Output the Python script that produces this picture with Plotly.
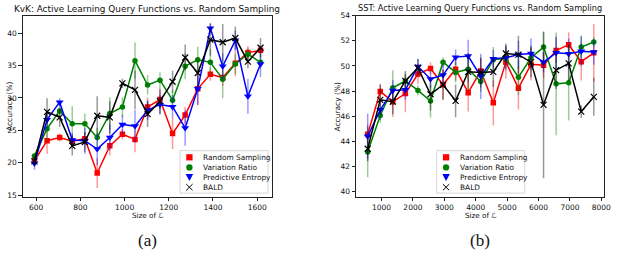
import plotly.graph_objects as go

# ---------------- data ----------------
kvk_x = [592, 649, 706, 763, 820, 876, 933, 990, 1047, 1104, 1160, 1217, 1274, 1331, 1388, 1444, 1501, 1558, 1615]
kvk_random = [20.3, 23.4, 23.9, 23.3, 23.7, 18.4, 22.6, 24.4, 23.6, 28.6, 29.75, 24.5, 27.35, 31.4, 33.65, 33.15, 35.35, 37.0, 37.35]
kvk_random_err = [0.6, 2.0, 0.6, 1.2, 1.0, 2.3, 1.5, 0.8, 2.0, 1.5, 1.5, 2.4, 1.3, 2.5, 1.0, 1.3, 2.0, 1.0, 0.8]
kvk_varratio = [21.05, 25.25, 28.0, 26.0, 26.0, 23.9, 27.6, 28.6, 35.75, 32.0, 32.75, 29.65, 34.9, 35.9, 35.5, 32.9, 35.25, 36.75, 35.5]
kvk_varratio_err = [0.5, 2.0, 1.2, 2.7, 1.6, 1.5, 2.5, 1.5, 2.8, 1.5, 1.2, 1.5, 2.0, 2.0, 2.0, 2.95, 1.5, 1.0, 1.0]
kvk_entropy = [19.9, 26.65, 29.35, 23.5, 23.4, 22.1, 23.9, 25.9, 25.65, 28.1, 29.0, 28.65, 25.35, 31.4, 40.75, 34.9, 38.9, 30.25, 35.25]
kvk_entropy_err = [1.0, 1.5, 0.6, 1.0, 2.0, 2.5, 2.0, 1.5, 2.5, 1.5, 1.5, 1.8, 2.75, 2.5, 0.8, 2.0, 1.5, 2.7, 2.0]
kvk_bald = [20.2, 27.85, 27.0, 22.6, 23.2, 27.25, 27.0, 32.25, 31.25, 27.5, 29.5, 32.5, 36.25, 33.85, 39.0, 38.6, 39.25, 35.6, 37.75]
kvk_bald_err = [0.8, 2.1, 1.5, 1.5, 1.5, 3.0, 2.5, 0.7, 3.0, 2.0, 2.0, 1.7, 2.0, 2.0, 2.5, 2.8, 1.8, 1.0, 1.5]

sst_x = [560, 960, 1360, 1760, 2160, 2560, 2960, 3360, 3760, 4160, 4560, 4960, 5360, 5760, 6160, 6560, 6960, 7360, 7760]
sst_random = [44.55, 47.97, 47.14, 47.8, 49.35, 49.8, 48.5, 49.74, 47.87, 49.6, 47.06, 50.3, 48.23, 50.13, 50.05, 51.22, 51.69, 50.34, 51.04]
sst_random_err = [0.8, 0.6, 1.2, 1.5, 0.8, 0.5, 1.2, 0.9, 1.5, 1.0, 1.8, 1.3, 1.7, 1.3, 1.0, 1.0, 1.0, 1.5, 2.3]
sst_varratio = [43.14, 46.05, 48.26, 48.8, 48.05, 47.2, 50.3, 49.48, 49.74, 48.75, 50.5, 50.6, 49.1, 50.65, 51.5, 48.57, 48.65, 51.5, 51.9]
sst_varratio_err = [2.0, 0.6, 1.4, 0.6, 0.4, 1.3, 0.4, 0.8, 1.0, 0.8, 1.0, 0.8, 1.4, 1.0, 1.2, 4.1, 3.0, 0.9, 0.4]
sst_entropy = [44.4, 46.5, 48.05, 48.1, 49.95, 48.96, 49.27, 50.7, 50.78, 49.17, 50.57, 50.65, 50.9, 50.99, 50.3, 51.04, 50.96, 51.17, 51.1]
sst_entropy_err = [1.8, 0.8, 0.8, 0.8, 0.6, 0.7, 0.8, 0.6, 1.3, 1.8, 0.7, 1.0, 1.1, 1.2, 0.8, 1.3, 1.2, 1.2, 1.0]
sst_bald = [43.4, 47.3, 47.15, 48.8, 49.85, 47.74, 48.5, 47.22, 49.53, 49.48, 49.53, 50.99, 50.9, 50.3, 46.9, 49.66, 50.2, 46.36, 47.53]
sst_bald_err = [1.0, 1.2, 1.0, 0.8, 0.7, 1.3, 1.2, 1.3, 1.5, 1.2, 1.2, 0.8, 1.5, 1.2, 5.85, 1.5, 1.4, 0.5, 1.5]

series_names = ["Random Sampling", "Variation Ratio", "Predictive Entropy", "BALD"]
kvk_x_ticks = [600, 800, 1000, 1200, 1400, 1600]
kvk_y_ticks = [15, 20, 25, 30, 35, 40]
sst_x_ticks = [1000, 2000, 3000, 4000, 5000, 6000, 7000, 8000]
sst_y_ticks = [40, 42, 44, 46, 48, 50, 52, 54]

# ---------------- styles ----------------
W, H = 640, 276
FONT = "DejaVu Sans"
styles = [
    dict(color="#ff0000", err="rgba(255,0,0,0.4)", symbol="square", size=5.5),
    dict(color="#008000", err="rgba(0,128,0,0.4)", symbol="circle", size=5.5),
    dict(color="#0000ff", err="rgba(0,0,255,0.4)", symbol="triangle-down", size=7),
    dict(color="#000000", err="rgba(0,0,0,0.4)", symbol="x-thin", size=6),
]

def fx(p):
    return p / W

def fy(p):
    return 1 - p / H

fig = go.Figure()

panels = [
    dict(x=kvk_x, ys=[kvk_random, kvk_varratio, kvk_entropy, kvk_bald],
         es=[kvk_random_err, kvk_varratio_err, kvk_entropy_err, kvk_bald_err],
         xa="x", ya="y"),
    dict(x=sst_x, ys=[sst_random, sst_varratio, sst_entropy, sst_bald],
         es=[sst_random_err, sst_varratio_err, sst_entropy_err, sst_bald_err],
         xa="x2", ya="y2"),
]

for p in panels:
    for name, y, e, st in zip(series_names, p["ys"], p["es"], styles):
        marker = dict(color=st["color"], symbol=st["symbol"], size=st["size"])
        if st["symbol"] == "x-thin":
            marker["line"] = dict(color=st["color"], width=1.2)
        fig.add_trace(go.Scatter(
            x=p["x"], y=y, name=name, mode="lines+markers",
            line=dict(color=st["color"], width=1.5),
            marker=marker,
            error_y=dict(type="data", array=e, visible=True, color=st["err"],
                         thickness=1.5, width=0),
            xaxis=p["xa"], yaxis=p["ya"], showlegend=False,
        ))

# plot areas in pixels (left, right, top, bottom)
areas = [(23, 275, 12, 197.7), (360, 611, 12, 198)]

axis_common = dict(showgrid=False, zeroline=False, showline=True, linecolor="#222",
                   linewidth=0.9, mirror=True, ticks="outside", ticklen=3.5,
                   tickwidth=0.8, tickcolor="#222",
                   tickfont=dict(family=FONT, size=7.5, color="#111"))

fig.update_layout(
    width=W, height=H, margin=dict(l=0, r=0, t=0, b=0),
    paper_bgcolor="white", plot_bgcolor="white", showlegend=False,
    xaxis=dict(domain=[fx(areas[0][0]), fx(areas[0][1])], range=[539, 1667],
               tickvals=kvk_x_ticks, anchor="y", **axis_common),
    yaxis=dict(domain=[fy(areas[0][3]), fy(areas[0][2])], range=[14.75, 42.7],
               tickvals=kvk_y_ticks, anchor="x", **axis_common),
    xaxis2=dict(domain=[fx(areas[1][0]), fx(areas[1][1])], range=[190, 8095],
                tickvals=sst_x_ticks, anchor="y2", **axis_common),
    yaxis2=dict(domain=[fy(areas[1][3]), fy(areas[1][2])], range=[39.56, 54.0],
                tickvals=sst_y_ticks, anchor="x2", **axis_common),
)

annotations = []
titles = ["KvK: Active Learning Query Functions vs. Random Sampling",
          "SST: Active Learning Query Functions vs. Random Sampling"]
title_sizes = [8.9, 8.2]
title_y = [5, 4.5]
captions = ["(a)", "(b)"]
ylabel_x = [9, 341]
for (l, r, t, b), title, ts, ty, cap, yl in zip(areas, titles, title_sizes, title_y, captions, ylabel_x):
    cx = (l + r) / 2
    annotations.append(dict(x=fx(cx), y=fy(ty), xref="paper", yref="paper", text=title,
                            showarrow=False, xanchor="center", yanchor="middle",
                            font=dict(family=FONT, size=ts, color="#111")))
    annotations.append(dict(x=fx(cx), y=fy(217), xref="paper", yref="paper",
                            text="Size of \u2112", showarrow=False, xanchor="center",
                            yanchor="middle", font=dict(family=FONT, size=7.2, color="#111")))
    annotations.append(dict(x=fx(yl), y=fy((t + b) / 2), xref="paper", yref="paper",
                            text="Accuracy (%)", textangle=-90, showarrow=False,
                            xanchor="center", yanchor="middle",
                            font=dict(family=FONT, size=7.5, color="#111")))
    annotations.append(dict(x=fx(cx), y=fy(243), xref="paper", yref="paper", text=cap,
                            showarrow=False, xanchor="center", yanchor="middle",
                            font=dict(family="Liberation Serif", size=17, color="#111")))

# custom compact legends (matplotlib style)
shapes = []
legend_boxes = [(182, 271, 150.5, 194), (441.5, 530.5, 150.5, 194)]
row_y = [157.3, 167.7, 177.7, 188.0]
for (bl, br, bt, bb) in legend_boxes:
    shapes.append(dict(type="rect", xref="paper", yref="paper",
                       x0=fx(bl), x1=fx(br), y0=fy(bb), y1=fy(bt),
                       line=dict(color="#cccccc", width=0.8),
                       fillcolor="rgba(255,255,255,0.85)", layer="above"))
    mx = bl + 9.5
    tx = bl + 21.5
    for name, st, ry in zip(series_names, styles, row_y):
        s = 3.2
        if st["symbol"] == "square":
            shapes.append(dict(type="rect", xref="paper", yref="paper",
                               x0=fx(mx - s), x1=fx(mx + s), y0=fy(ry + s), y1=fy(ry - s),
                               line=dict(width=0), fillcolor=st["color"], layer="above"))
        elif st["symbol"] == "circle":
            shapes.append(dict(type="circle", xref="paper", yref="paper",
                               x0=fx(mx - s), x1=fx(mx + s), y0=fy(ry + s), y1=fy(ry - s),
                               line=dict(width=0), fillcolor=st["color"], layer="above"))
        elif st["symbol"] == "triangle-down":
            path = "M {:.5f},{:.5f} L {:.5f},{:.5f} L {:.5f},{:.5f} Z".format(
                fx(mx - 3.8), fy(ry - 3.2), fx(mx + 3.8), fy(ry - 3.2), fx(mx), fy(ry + 3.8))
            shapes.append(dict(type="path", xref="paper", yref="paper", path=path,
                               line=dict(width=0), fillcolor=st["color"], layer="above"))
        else:
            path = "M {:.5f},{:.5f} L {:.5f},{:.5f} M {:.5f},{:.5f} L {:.5f},{:.5f}".format(
                fx(mx - s), fy(ry - s), fx(mx + s), fy(ry + s),
                fx(mx - s), fy(ry + s), fx(mx + s), fy(ry - s))
            shapes.append(dict(type="path", xref="paper", yref="paper", path=path,
                               line=dict(color=st["color"], width=1), layer="above"))
        annotations.append(dict(x=fx(tx), y=fy(ry), xref="paper", yref="paper", text=name,
                                showarrow=False, xanchor="left", yanchor="middle",
                                font=dict(family=FONT, size=7.4, color="#111")))

fig.update_layout(annotations=annotations, shapes=shapes)
fig.write_html("out.html", config={"displayModeBar": False},
               post_script="document.body.style.margin='0';document.body.style.overflow='hidden';")
